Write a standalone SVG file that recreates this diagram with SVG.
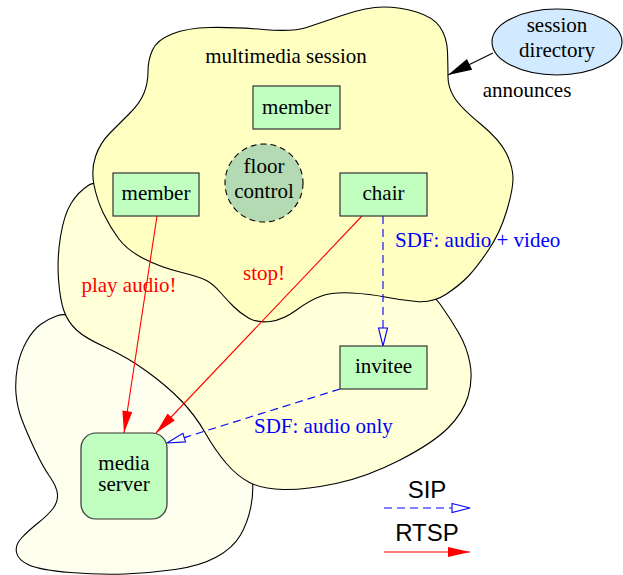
<svg xmlns="http://www.w3.org/2000/svg" width="623" height="575" viewBox="0 0 623 575">
<style>
.blob{stroke:#000;stroke-width:1.1}
.node{fill:#c0ffc0;stroke:#333;stroke-width:1.2}
.t{font-family:"Liberation Serif","Times New Roman",serif;font-size:21px;fill:#000}
.c{text-anchor:middle}
.red{fill:#ff0000}
.blue{fill:#0000ff}
.rl{stroke:#ff0000;stroke-width:1.1;fill:none}
.bl{stroke:#0000ff;stroke-width:1.1;fill:none;stroke-dasharray:8,5}
.sans{font-family:"Liberation Sans",Arial,sans-serif;font-size:24px;fill:#000;text-anchor:middle}
</style>
<defs>
<marker id="redArrow" markerUnits="userSpaceOnUse" markerWidth="22" markerHeight="10" refX="22" refY="5" orient="auto" overflow="visible">
<path d="M0,0 L22,5 L0,10 z" fill="#ff0000" stroke="none"/>
</marker>
<marker id="blueOpen" markerUnits="userSpaceOnUse" markerWidth="18" markerHeight="10" refX="0" refY="5" orient="auto" overflow="visible">
<path d="M0,0.5 L18,5 L0,9.5 z" fill="none" stroke="#0000ff" stroke-width="1.1" stroke-dasharray="none"/>
</marker>
<marker id="blackArrow" markerUnits="userSpaceOnUse" markerWidth="24" markerHeight="12" refX="24" refY="6" orient="auto" overflow="visible">
<path d="M0,0 L24,6 L0,12 z" fill="#000" stroke="none"/>
</marker>
</defs>

<g id="blobs">
<path id="blob-media" class="blob" fill="#fffff0" d="M72.5,316.5 Q65,313 56.5,316 Q48,319 40.5,324.5 Q33,330 26.5,341.5 Q20,353 17.5,366.5 Q15,380 16,393.5 Q17,407 22,420 Q27,433 35,450 Q43,467 50,477 Q57,487 57.5,494.5 Q58,502 53,508.5 Q48,515 38,523 Q28,531 21.5,538 Q15,545 16.5,552.5 Q18,560 29,565 Q40,570 70,572.5 Q100,575 125,574 Q150,573 175,569.5 Q200,566 216.5,557 Q233,548 240.5,535 Q248,522 251,506 Q254,490 252,475 Q250,460 225,430 Q200,400 160,372.5 Q120,345 100,332.5 Q80,320 72.5,316.5 Z"/>
<path id="blob-invitee" class="blob" fill="#ffffd8" d="M150,194 Q100,178 89,185 Q78,192 71,203.5 Q64,215 60.5,236.5 Q57,258 58.5,279 Q60,300 64,311 Q68,322 76.5,330 Q85,338 106,347.5 Q127,357 147,371.5 Q167,386 181,400.5 Q195,415 205,432.5 Q215,450 226,463 Q237,476 249.5,482.5 Q262,489 283.5,489.5 Q305,490 336,483.5 Q367,477 400,460 Q433,443 448,428 Q463,413 468,396.5 Q473,380 470,363.5 Q467,347 458.5,332.5 Q450,318 440,304 Q430,290 390,270 Q350,250 275,230 Q200,210 150,194 Z"/>
<path id="blob-session" class="blob" fill="#ffffc2" d="M94,185 Q91,170 95.5,156.5 Q100,143 110,133 Q120,123 130,113 Q140,103 144,93 Q148,83 148,71.5 Q148,60 152.5,50 Q157,40 172,34 Q187,28 210,27.5 Q233,27 263,29.5 Q293,32 306.5,27.5 Q320,23 343.5,15 Q367,7 383.5,7 Q400,7 416.5,12 Q433,17 440,27 Q447,37 447.5,52 Q448,67 448,77 Q448,87 454,97 Q460,107 480,123.5 Q500,140 506.5,153.5 Q513,167 513,178.5 Q513,190 506.5,211.5 Q500,233 488.5,250 Q477,267 468.5,276 Q460,285 446.5,294 Q433,303 416.5,301.5 Q400,300 385,297 Q370,294 351.5,293 Q333,292 321.5,296 Q310,300 296.5,310 Q283,320 270,321.5 Q257,323 248.5,318 Q240,313 233.5,306.5 Q227,300 220,292 Q213,284 206.5,280.5 Q200,277 180,272 Q160,267 143.5,258.5 Q127,250 118.5,238.5 Q110,227 103.5,213.5 Q97,200 94,185 Z"/>
</g>

<text class="t c" x="286" y="63">multimedia session</text>
<text class="t c" x="527" y="97">announces</text>

<g id="connectors">
<line class="rl" x1="157" y1="216" x2="124" y2="433" marker-end="url(#redArrow)"/>
<line class="rl" x1="362" y1="216" x2="156" y2="433" marker-end="url(#redArrow)"/>
<line class="bl" x1="383" y1="216" x2="383" y2="328" marker-end="url(#blueOpen)"/>
<line class="bl" x1="340" y1="389" x2="184.2" y2="437.6" marker-end="url(#blueOpen)"/>
<line x1="493" y1="53" x2="448" y2="75" stroke="#000" stroke-width="1.1" marker-end="url(#blackArrow)"/>
<text class="t red c" x="129" y="292">play audio!</text>
<text class="t red c" x="264" y="280">stop!</text>
<text class="t blue" x="395" y="247">SDF: audio + video</text>
<text class="t blue" x="254" y="433">SDF: audio only</text>
</g>

<g id="node-member-top">
<rect class="node" x="253" y="86" width="87" height="43"/>
<text class="t c" x="296.5" y="114">member</text>
</g>
<g id="node-member-left">
<rect class="node" x="113" y="173" width="86" height="43"/>
<text class="t c" x="156" y="200">member</text>
</g>
<g id="node-floor-control">
<circle cx="264" cy="183" r="39" fill="#b4dab4" stroke="#000" stroke-width="1.1" stroke-dasharray="6,4"/>
<text class="t c" x="264" y="173">floor</text>
<text class="t c" x="264" y="198">control</text>
</g>
<g id="node-chair">
<rect class="node" x="340" y="173" width="87" height="43"/>
<text class="t c" x="383.5" y="200">chair</text>
</g>
<g id="node-invitee">
<rect class="node" x="340" y="346" width="87" height="43"/>
<text class="t c" x="383.5" y="373">invitee</text>
</g>
<g id="node-media-server">
<rect class="node" x="81" y="433" width="86" height="86" rx="15" ry="15"/>
<text class="t c" x="124" y="470">media</text>
<text class="t c" x="124" y="491">server</text>
</g>
<g id="node-session-directory">
<ellipse cx="557" cy="42" rx="65" ry="33" fill="#d2eaff" stroke="#000" stroke-width="1.1"/>
<text class="t c" x="557" y="32">session</text>
<text class="t c" x="557" y="57">directory</text>
</g>

<g id="legend">
<text class="sans" x="427" y="498">SIP</text>
<line class="bl" x1="384" y1="508" x2="452" y2="508" marker-end="url(#blueOpen)"/>
<text class="sans" x="427" y="541">RTSP</text>
<line class="rl" x1="384" y1="552" x2="470" y2="552" marker-end="url(#redArrow)"/>
</g>
</svg>
